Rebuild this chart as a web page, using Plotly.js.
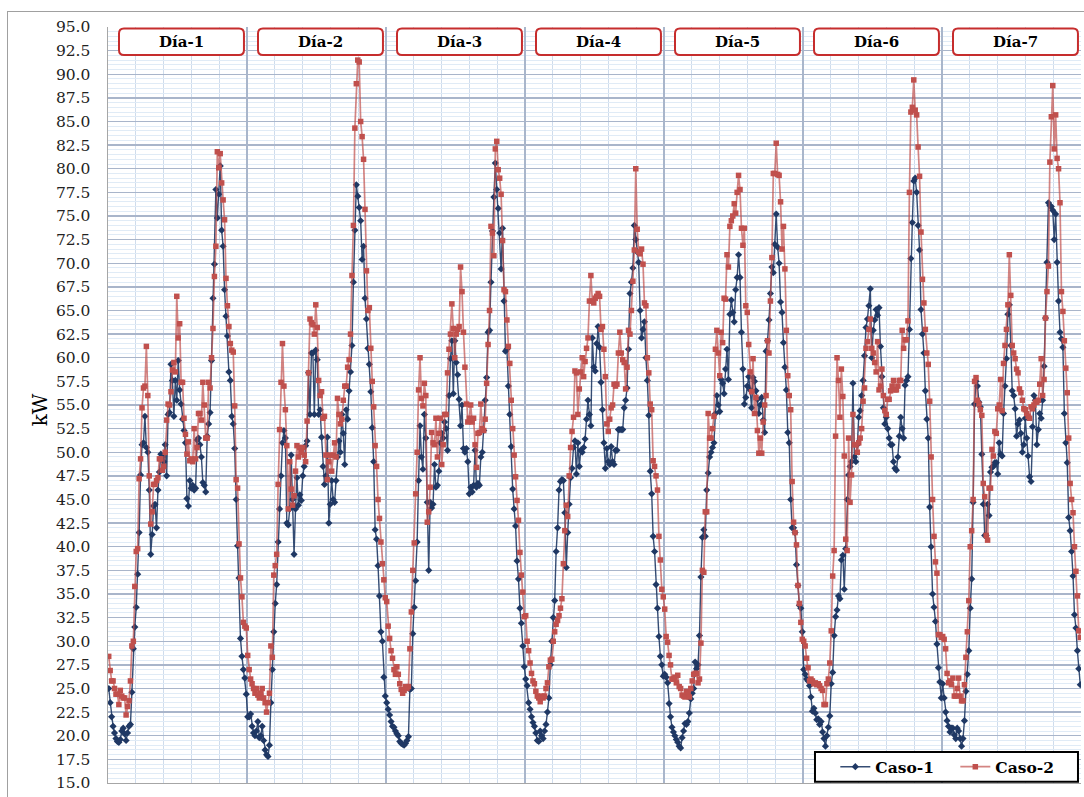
<!DOCTYPE html>
<html><head><meta charset="utf-8">
<script src="https://cdn.plot.ly/plotly-3.0.1.min.js"></script>
<style>
html,body{margin:0;padding:0;background:#fff;overflow:hidden}
#chart{position:absolute;left:0;top:0;width:1084px;height:797px}
#frame{position:absolute;left:7px;top:11px;width:1200px;height:900px;border-left:1px solid #a0a0a0;border-top:1px solid #a0a0a0;pointer-events:none}
</style></head><body>
<div id="chart"></div><div id="frame"></div>
<script>
const dayLabels = ["Día-1","Día-2","Día-3","Día-4","Día-5","Día-6","Día-7"];
const seriesNames = ["Caso-1","Caso-2"];
const pointsPerDay = 96;

const caso1_dia1 = [25.0,23.5,22.0,21.0,20.3,19.7,19.4,19.3,19.6,20.5,20.8,20.2,19.5,20.3,21.0,21.2,24.6,29.2,31.5,33.6,37.1,41.5,47.6,50.8,51.0,53.8,50.5,50.0,46.0,39.2,41.3,44.3,44.5,42.0,46.0,47.9,49.8,49.5,49.0,50.8,47.5,54.0,54.2,59.3,57.6,53.8,57.6,55.5,59.7,56.6,55.1,53.5,52.3,51.0,45.1,44.3,47.0,46.2,46.5,46.0,46.2,51.3,51.5,50.8,49.5,46.8,46.5,45.8,51.7,53.0,54.2,59.7,66.3,69.9,77.8,74.8,77.3,80.3,73.5,71.8,67.2,64.4,62.3,58.5,57.6,53.8,53.0,50.4,45.0,40.1,36.7,30.3,28.4,27.0,26.1,24.4];
const caso2_dia1 = [28.4,26.9,25.8,25.8,25.0,24.4,24.4,23.3,24.8,24.2,24.0,24.0,22.2,23.1,23.7,25.8,29.5,30.0,35.8,39.5,39.8,47.2,49.3,54.7,56.8,57.0,61.2,56.0,47.5,42.4,43.7,46.6,46.6,47.0,47.3,49.3,49.3,48.1,48.5,50.0,53.4,55.1,55.0,56.4,58.7,59.5,58.5,66.5,62.1,63.6,57.4,57.4,53.6,51.9,49.8,51.1,49.1,49.3,49.0,52.5,49.3,50.5,54.1,54.1,53.4,57.4,55.0,51.5,51.5,57.4,56.8,60.0,63.1,68.6,71.8,81.8,80.1,81.6,78.5,76.7,74.6,68.4,65.5,63.3,61.5,60.8,60.6,54.9,47.1,46.2,40.3,36.7,34.7,32.0,31.6,31.4];

const caso1_dia2 = [22.0,22.0,22.3,21.0,20.3,20.0,20.5,21.5,19.8,20.0,21.0,19.5,18.5,18.0,17.8,19.0,23.5,27.0,31.0,34.0,36.0,40.5,44.0,47.5,51.0,52.3,51.5,42.5,42.3,44.0,49.7,45.0,39.2,44.0,47.3,44.4,45.5,44.9,47.5,48.5,50.7,51.2,58.4,54.0,60.5,60.5,54.0,60.8,59.8,54.0,54.5,51.6,48.5,46.6,47.5,51.6,42.5,44.5,47.0,45.0,44.7,47.0,49.5,51.2,50.0,54.0,52.0,48.7,54.5,53.5,56.5,58.5,61.3,68.0,73.5,78.3,77.1,75.9,74.5,70.4,71.8,66.3,64.1,61.0,59.3,56.4,52.6,49.0,41.8,40.8,38.0,34.8,31.0,30.0,26.2,24.2];
const caso2_dia2 = [28.5,27.0,26.0,25.5,25.0,24.5,25.0,24.3,24.0,24.5,25.0,24.0,23.5,22.5,23.5,24.5,29.5,28.3,37.0,38.0,39.2,46.6,52.4,57.4,61.5,57.0,54.5,50.7,44.0,49.0,46.1,44.4,45.4,48.0,50.7,49.5,50.5,50.0,50.5,49.7,49.0,53.3,58.4,64.1,63.7,63.5,62.5,65.6,63.2,57.6,56.0,56.4,53.6,53.8,49.7,47.1,49.0,49.7,48.0,49.7,51.0,49.5,55.7,54.0,53.0,53.5,55.5,57.0,57.0,59.0,59.8,62.5,68.7,74.0,84.3,89.0,91.5,91.3,85.0,83.4,81.0,75.7,69.2,65.0,65.3,61.0,57.5,54.8,50.7,48.5,45.0,43.0,40.5,38.2,36.5,34.6];

const caso1_dia3 = [23.5,22.8,22.2,21.5,21.0,20.9,20.5,20.2,20.0,19.4,19.2,19.1,19.0,19.2,19.5,19.9,24.9,25.0,30.8,33.6,36.4,40.5,47.0,52.8,49.5,48.2,54.0,51.5,44.7,37.5,44.7,44.1,44.5,48.7,46.3,46.5,48.0,51.0,52.0,51.5,53.2,52.5,50.2,56.0,59.9,61.8,56.2,61.8,59.5,58.2,55.6,52.8,55.0,50.4,50.0,50.4,49.0,45.6,46.3,45.8,46.5,50.2,46.3,46.7,46.5,49.5,50.0,52.3,55.5,57.9,62.7,62.9,68.0,73.4,77.0,80.6,77.8,75.8,73.2,69.4,73.7,66.0,60.7,60.9,57.0,54.0,50.6,46.1,44.0,42.2,38.5,36.6,33.5,31.9,29.5,27.3];
const caso2_dia3 = [34.2,31.6,30.3,29.0,28.2,27.0,26.5,27.3,26.5,25.5,24.9,24.5,24.8,25.2,25.0,25.2,29.2,33.1,37.5,40.4,45.6,50.0,56.6,60.0,55.7,54.9,57.3,56.0,42.6,43.7,46.3,52.1,51.0,50.8,53.6,49.5,52.0,53.6,48.7,50.8,54.0,54.0,58.4,60.9,62.5,65.7,63.1,60.0,62.5,63.0,63.3,69.6,67.0,62.7,59.0,55.1,53.2,53.6,55.0,53.2,53.6,50.8,48.4,52.0,52.1,55.1,52.5,52.3,53.5,57.3,61.4,65.0,73.9,73.2,70.8,82.1,82.9,79.9,79.0,77.3,72.4,67.2,67.0,64.0,61.2,59.4,55.5,52.5,49.7,47.4,44.9,42.8,39.4,37.0,35.2,32.6];

const caso1_dia4 = [26.0,25.3,23.5,22.8,22.0,21.4,21.0,20.3,19.5,19.4,20.5,20.0,19.7,20.5,21.2,22.5,24.0,27.5,30.0,32.5,34.3,39.5,42.0,46.0,46.9,47.1,47.0,43.6,37.8,41.5,44.5,47.3,48.3,50.5,51.2,47.7,51.0,48.5,50.2,50.0,50.5,51.4,53.5,55.5,54.0,52.8,62.1,59.0,58.6,61.5,63.3,61.1,57.4,54.5,51.0,48.3,50.4,49.0,48.7,50.6,49.0,48.7,50.2,50.2,52.4,52.4,52.4,52.4,54.7,55.5,56.8,60.9,66.8,68.0,69.5,74.0,72.5,71.2,70.1,65.0,62.1,63.0,63.8,60.0,57.6,53.9,48.0,45.6,41.1,39.5,36.0,33.5,30.5,28.4,27.5,26.3];
const caso2_dia4 = [32.7,30.0,29.0,27.7,26.6,25.8,25.5,24.7,24.2,24.0,23.6,24.2,24.0,24.2,25.0,25.6,27.3,28.0,28.1,30.0,31.0,31.8,32.2,32.7,33.5,34.5,38.2,41.7,44.4,43.2,47.5,50.5,52.2,53.7,58.6,58.4,54.0,56.7,58.5,60.0,58.0,59.6,61.0,62.1,66.0,68.7,66.0,65.8,66.3,66.5,66.8,66.5,63.0,63.3,60.9,58.0,53.0,52.2,53.5,54.7,55.0,57.2,57.0,57.2,60.5,62.7,60.5,59.8,59.5,56.7,59.0,62.9,62.5,65.0,68.1,71.4,80.0,73.6,71.2,71.0,71.5,69.9,65.8,65.5,60.0,58.4,55.1,54.5,49.1,48.5,47.5,46.0,41.1,38.6,35.5,34.7];

const caso1_dia5 = [26.5,26.2,25.6,23.4,22.0,20.9,20.4,20.0,19.6,19.3,18.9,18.7,19.8,20.5,21.3,21.2,21.5,22.4,23.9,24.5,25.0,27.8,27.1,27.5,30.6,36.8,41.0,41.8,41.1,46.0,47.8,49.5,50.0,50.5,51.0,54.1,56.0,55.0,54.3,57.7,57.3,56.2,58.8,60.9,57.7,64.6,66.1,64.8,63.8,67.2,68.5,70.9,68.5,62.7,58.8,55.1,55.8,57.0,58.0,56.6,54.7,57.9,57.5,56.5,55.6,54.1,55.0,55.8,53.4,52.1,60.7,61.8,64.0,66.8,69.6,69.0,72.0,75.2,71.7,70.0,65.9,64.8,61.6,59.0,56.6,52.1,51.0,45.0,42.0,42.0,41.5,38.1,35.9,33.8,33.5,31.0];
const caso2_dia5 = [33.4,30.5,29.9,28.5,27.5,26.0,26.0,26.2,25.6,26.4,25.2,25.0,24.3,24.2,24.1,24.7,24.5,24.1,25.0,25.8,26.5,26.6,26.6,25.6,26.0,29.8,37.5,37.3,43.7,43.7,54.1,51.5,51.5,52.5,53.8,60.9,62.9,60.5,58.1,62.7,61.6,66.3,66.2,70.9,69.6,73.9,74.5,75.0,76.3,75.3,77.5,79.3,77.8,73.7,71.9,73.7,65.5,64.8,61.4,58.5,56.4,59.9,54.1,55.8,52.3,49.9,51.5,49.9,53.2,55.0,56.0,61.8,60.5,66.0,70.6,79.5,79.5,82.7,79.4,79.3,76.5,71.5,73.9,69.4,62.9,58.1,56.0,54.5,46.9,42.6,41.5,40.2,35.9,34.0,32.0,30.2];

const caso1_dia6 = [27.0,26.5,26.0,25.8,25.3,24.1,22.6,22.9,22.4,21.7,21.8,21.2,21.5,20.4,19.7,18.9,20.0,20.9,22.1,25.5,26.7,30.6,32.6,33.3,34.8,34.5,38.6,39.1,35.5,39.8,45.0,47.6,48.5,49.0,57.3,49.5,49.0,50.8,53.7,54.4,56.0,57.6,60.2,63.2,64.1,65.5,67.3,60.0,62.9,64.0,65.1,64.5,65.3,61.2,58.0,54.7,53.0,53.7,52.5,51.5,50.8,50.8,49.0,48.3,48.1,49.5,51.7,53.7,52.5,51.5,57.1,57.6,58.0,63.0,70.5,74.3,78.7,79.0,77.5,74.0,71.4,65.1,62.5,60.5,56.5,53.5,51.5,44.2,40.0,35.0,33.6,32.1,29.7,27.2,25.7,24.0];
const caso2_dia6 = [30.0,29.5,28.2,27.2,25.8,26.0,25.8,25.5,25.6,25.4,25.5,25.3,25.0,24.8,23.3,23.3,25.5,26.0,27.7,31.1,36.9,39.6,51.7,60.0,57.6,53.7,58.8,55.9,49.6,40.8,39.6,51.5,44.7,47.6,54.0,50.8,50.8,50.0,51.0,51.5,52.5,55.4,56.8,61.0,61.7,63.0,64.1,61.0,60.5,59.5,58.5,61.7,56.6,57.0,58.8,56.0,54.4,54.0,55.6,55.6,56.5,57.0,57.6,56.6,56.6,57.0,57.6,57.6,62.9,61.0,61.9,61.9,63.9,77.5,86.0,86.5,89.4,86.2,85.7,82.3,79.2,73.3,68.3,65.8,63.0,60.5,59.3,55.4,49.5,45.0,41.1,38.4,37.2,30.7,30.7,30.4];

const caso1_dia7 = [25.5,24.0,22.5,21.6,21.0,20.4,20.8,20.8,20.1,19.7,20.8,20.5,19.7,18.9,19.7,21.6,24.7,26.5,29.0,33.5,36.6,44.7,55.1,57.5,57.0,55.3,54.8,49.8,44.5,41.2,41.2,44.5,43.3,47.9,48.4,48.5,48.9,48.9,47.7,51.0,49.8,49.6,54.1,57.0,59.9,64.6,65.6,61.3,56.5,56.0,54.6,51.7,53.0,53.4,52.0,50.0,50.8,53.6,51.5,49.6,47.4,46.9,52.7,56.0,55.5,50.8,52.4,54.1,53.6,55.5,59.1,64.2,70.1,76.4,76.1,76.0,75.6,72.5,75.2,70.1,66.0,62.7,62.0,61.1,54.1,51.0,48.9,43.1,41.7,39.5,36.9,32.8,31.4,29.0,27.1,25.4];
const caso2_dia7 = [30.5,30.2,29.2,26.6,25.6,25.8,25.4,26.1,24.2,24.2,25.0,26.1,24.2,23.7,23.7,25.4,28.3,31.0,34.3,40.0,41.7,45.0,57.5,57.9,55.5,55.1,54.5,53.9,46.7,45.3,41.2,40.7,46.2,46.2,50.3,49.6,52.2,52.0,54.6,55.0,57.7,54.4,59.4,61.3,63.0,65.6,70.9,66.6,61.3,60.5,59.9,58.8,58.4,56.7,56.3,55.5,54.6,54.5,54.1,53.8,53.6,54.8,54.6,55.0,55.3,55.3,55.5,57.2,59.9,56.0,57.7,64.2,67.0,69.7,80.7,85.5,88.8,82.1,85.7,81.1,80.0,76.4,67.0,64.9,61.8,58.9,56.3,51.5,46.7,45.0,43.6,40.0,37.4,34.8,31.1,30.4];

const caso1Days = [caso1_dia1,caso1_dia2,caso1_dia3,caso1_dia4,caso1_dia5,caso1_dia6,caso1_dia7];
const caso2Days = [caso2_dia1,caso2_dia2,caso2_dia3,caso2_dia4,caso2_dia5,caso2_dia6,caso2_dia7];

function flatten(days){
  const x=[], y=[];
  days.forEach((arr,d)=>arr.forEach((v,i)=>{ x.push(d*pointsPerDay+i+0.5); y.push(v); }));
  return {x,y};
}
const s1 = flatten(caso1Days), s2 = flatten(caso2Days);
const nDays = dayLabels.length;
const xMax = nDays*pointsPerDay;

const traces = [
  {x:s1.x, y:s1.y, name:seriesNames[0], type:'scatter', mode:'lines+markers',
   line:{color:'rgba(31,56,100,0.9)', width:1.4},
   marker:{symbol:'diamond', size:5.5, color:'#1f3864'}},
  {x:s2.x, y:s2.y, name:seriesNames[1], type:'scatter', mode:'lines+markers',
   line:{color:'rgba(192,80,77,0.7)', width:1.7},
   marker:{symbol:'square', size:5.5, color:'#c0504d'}}
];

function roundRect(x0,x1,y0,y1,rx,ry){
  return `M ${x0+rx},${y1} L ${x1-rx},${y1} Q ${x1},${y1} ${x1},${y1-ry} L ${x1},${y0+ry} Q ${x1},${y0} ${x1-rx},${y0} L ${x0+rx},${y0} Q ${x0},${y0} ${x0},${y0+ry} L ${x0},${y1-ry} Q ${x0},${y1} ${x0+rx},${y1} Z`;
}
const shapes = [];
const annotations = [];
dayLabels.forEach((lab,d)=>{
  const x0 = d*pointsPerDay + 7.6, x1 = d*pointsPerDay + 93.9;
  shapes.push({type:'path', xref:'x', yref:'y', layer:'above',
    path: roundRect(x0,x1,92.04,94.85,3.4,0.53),
    fillcolor:'#ffffff', line:{color:'#c62d2d', width:2}});
  annotations.push({x:(x0+x1)/2, y:93.45, xref:'x', yref:'y', text:'<b>'+lab+'</b>',
    showarrow:false, font:{family:'DejaVu Serif', size:15, color:'#000'}});
});
shapes.push({type:'rect', xref:'paper', yref:'paper', layer:'above',
  x0:0.7266, x1:0.9969, y0:0.0015, y1:0.041,
  fillcolor:'#ffffff', line:{color:'#000', width:2}});
annotations.push({xref:'paper', yref:'paper', x:0, y:0.493, xshift:-68, xanchor:'center', yanchor:'middle',
  text:'kW', textangle:-90, showarrow:false, font:{family:'DejaVu Serif', size:20, color:'#000'}});

const layout = {
  width:1084, height:797,
  margin:{l:108, r:3, t:27, b:14, pad:0},
  paper_bgcolor:'rgba(0,0,0,0)', plot_bgcolor:'#ffffff',
  showlegend:true,
  legend:{orientation:'h', x:0.7475, xanchor:'left', y:0.021, yanchor:'middle',
    bgcolor:'rgba(0,0,0,0)', borderwidth:0,
    font:{family:'DejaVu Serif', size:15.5, color:'#000', weight:'bold'},
    entrywidth:75, entrywidthmode:'pixels', traceorder:'normal'},
  xaxis:{range:[0,xMax], showticklabels:false, ticks:'', zeroline:false,
    showgrid:true, tick0:0, dtick:pointsPerDay, gridcolor:'#a9b6cb', gridwidth:1.5,
    minor:{tick0:0, dtick:pointsPerDay/5, showgrid:true, gridcolor:'#cfdcec', gridwidth:1},
    showline:true, linecolor:'#a6a6a6', linewidth:1},
  yaxis:{range:[15,95], tick0:15, dtick:2.5, tickformat:'.1f', zeroline:false,
    showgrid:true, gridcolor:'#a9b5ca', gridwidth:1.3,
    minor:{dtick:0.5, showgrid:true, gridcolor:'#e0ebf6', gridwidth:1},
    showline:true, linecolor:'#a6a6a6', linewidth:1.5, ticks:'',
    ticklabelstandoff:13,
    tickfont:{family:'DejaVu Serif', size:15.5, color:'#222'}},
  shapes:shapes, annotations:annotations
};
Plotly.newPlot('chart', traces, layout, {displayModeBar:false, staticPlot:true});
</script>
</body></html>
